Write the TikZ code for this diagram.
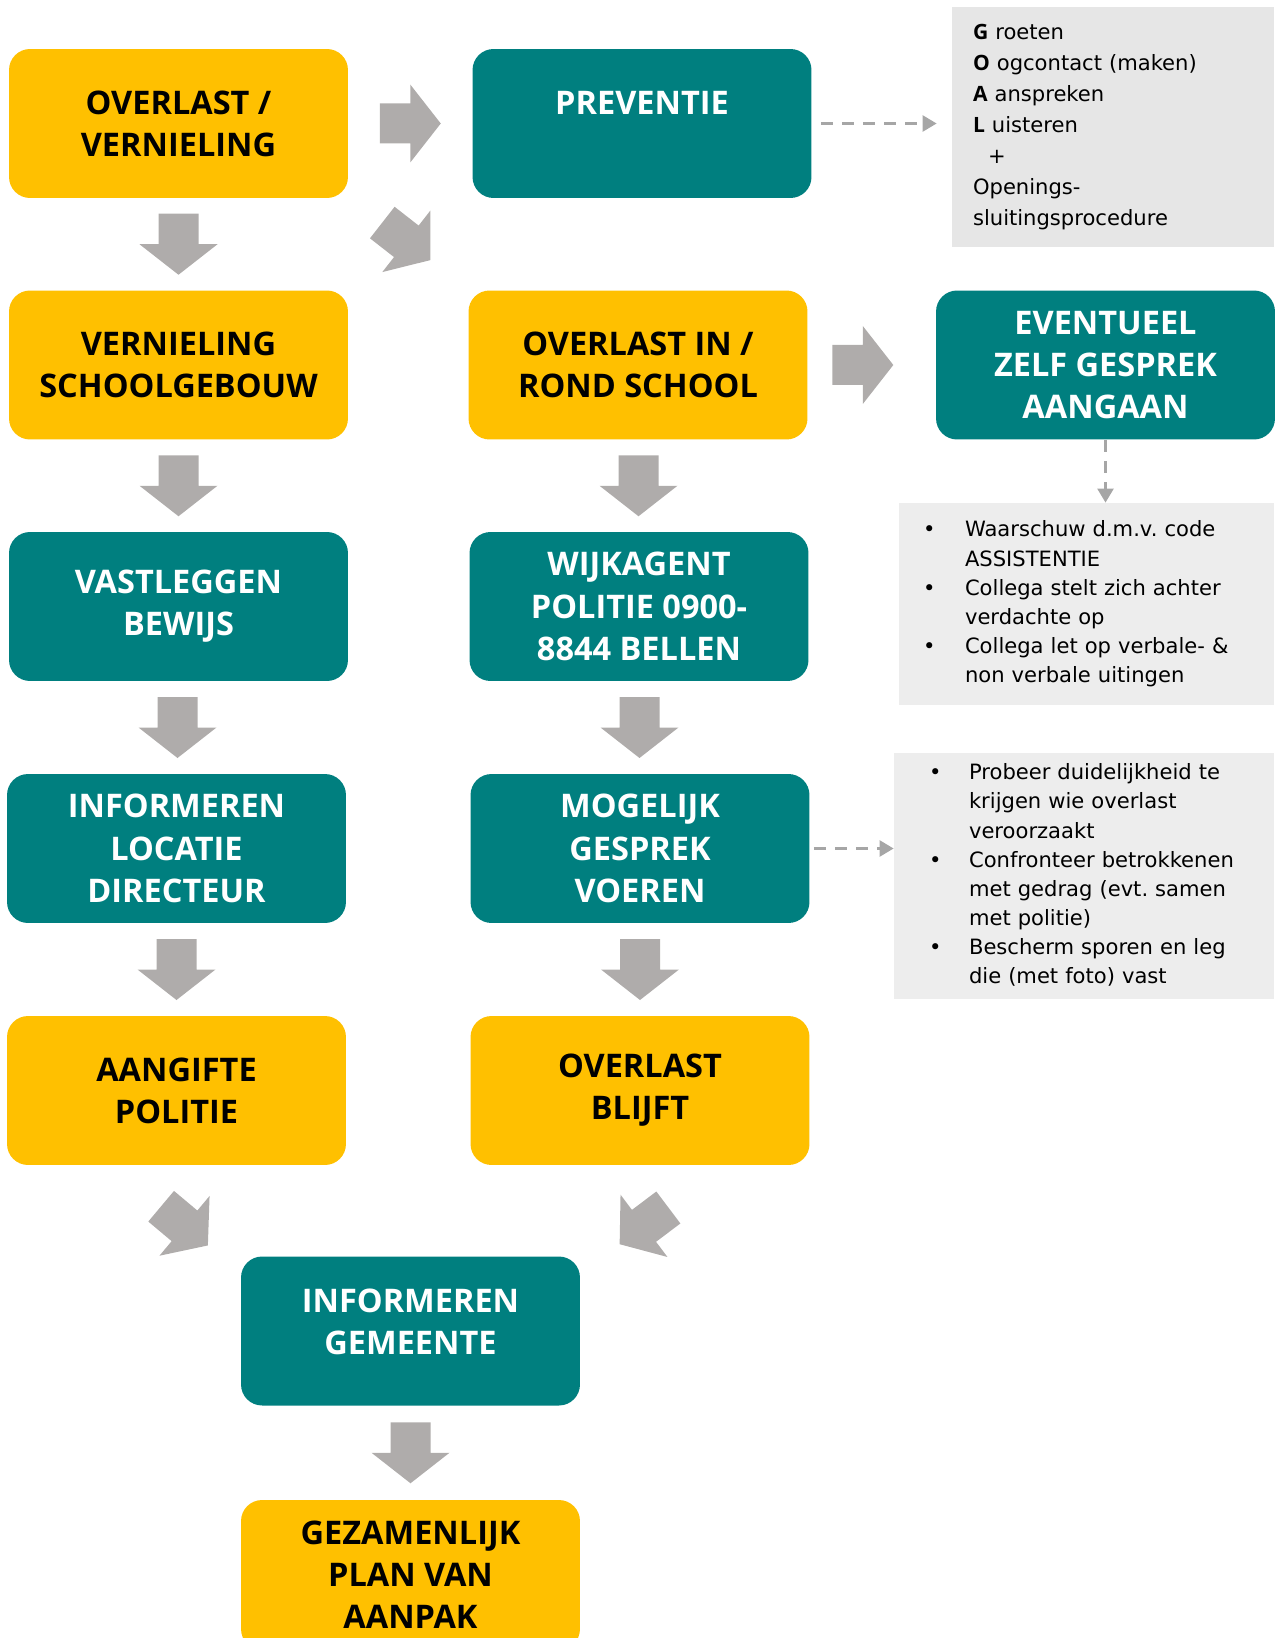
\documentclass[tikz,border=0pt]{standalone}
\usepackage{fontspec}
\setmainfont{DejaVu Sans}
\newfontfamily\kopfont{Open Sans}
\usetikzlibrary{calc,arrows.meta}
\definecolor{kleurgeel}{HTML}{FFC000}
\definecolor{kleurteal}{HTML}{007F7F}
\definecolor{kleurgrijs}{HTML}{AFACAB}
\definecolor{vlakgrijs}{HTML}{E6E6E6}
\definecolor{vlaklicht}{HTML}{EDEDED}
\definecolor{stippelgrijs}{HTML}{A6A6A6}
\frenchspacing
\tikzset{
  geelvak/.style={rectangle, rounded corners=0.42cm, fill=kleurgeel, text=black, minimum width=6.78cm, minimum height=2.98cm, align=center, inner sep=0pt, font=\kopfont\bfseries\fontsize{18.5}{24}\selectfont},
  tealvak/.style={geelvak, fill=kleurteal, text=white},
  infovak/.style={rectangle, fill=vlaklicht, align=left, inner ysep=0pt, font=\fontsize{12}{16.6}\selectfont},
  stippel/.style={draw=stippelgrijs, line width=1.7pt, dash pattern=on 7pt off 5pt, -{Triangle[length=8pt,width=9pt]}},
  pics/blokpijl/.style={code={\fill[kleurgrijs] (-30.5,-20) -- (0,-20) -- (0,-39) -- (30.5,0) -- (0,39) -- (0,20) -- (-30.5,20) -- cycle;}}
}
\begin{document}
\begin{tikzpicture}[x=0.02cm, y=-0.02cm]
\useasboundingbox (0,0) rectangle (1274,1638);
% linker kolom
\node[geelvak] (ovl) at (178.5,123.5) {OVERLAST /\\VERNIELING};
\node[geelvak] (vern) at (178.5,365) {VERNIELING\\SCHOOLGEBOUW};
\node[tealvak] (vast) at (178.5,606.5) {VASTLEGGEN\\BEWIJS};
\node[tealvak] (info) at (176.5,848.5) {INFORMEREN\\LOCATIE\\DIRECTEUR};
\node[geelvak] (aang) at (176.5,1090.5) {AANGIFTE\\POLITIE};
% middelste kolom
\node[tealvak] (prev) at (642,123.5) {PREVENTIE\\\mbox{}};
\node[geelvak] (ovlin) at (638,365) {OVERLAST IN /\\ROND SCHOOL};
\node[tealvak] (wijk) at (639,606.5) {WIJKAGENT\\POLITIE 0900-\\8844 BELLEN};
\node[tealvak] (mog) at (640,848.5) {MOGELIJK\\GESPREK\\VOEREN};
\node[geelvak] (blijft) at (640,1090.5) {OVERLAST\\BLIJFT};
\node[tealvak] (gem) at (410.5,1331) {INFORMEREN\\GEMEENTE\\[-13.4pt]\mbox{}};
\node[geelvak, minimum height=3cm] (plan) at (410.5,1575) {GEZAMENLIJK\\PLAN VAN\\AANPAK};
% rechter kolom
\node[infovak, fill=vlakgrijs, text width=5.6cm, inner xsep=0.42cm, minimum height=4.8cm, font=\fontsize{12}{17.6}\selectfont] (goal) at (1113,127)
  {{\kopfont\bfseries G} roeten\\{\kopfont\bfseries O} ogcontact (maken)\\{\kopfont\bfseries A} anspreken\\{\kopfont\bfseries L} uisteren\\\hspace*{0.3cm}+\\Openings-\\sluitingsprocedure};
\node[tealvak] (event) at (1105.5,365) {EVENTUEEL\\ZELF GESPREK\\AANGAAN};
\node[infovak, text width=6.54cm, inner xsep=0.48cm, minimum height=4.04cm] (bul1) at (1086.5,604)
  {\begin{tabular}{@{}p{0.84cm}@{}l@{}}
  \textbullet & Waarschuw d.m.v. code\\
   & ASSISTENTIE\\
  \textbullet & Collega stelt zich achter\\
   & verdachte op\\
  \textbullet & Collega let op verbale- \&\\
   & non verbale uitingen
  \end{tabular}};
\node[infovak, text width=6.2cm, inner xsep=0.7cm, minimum height=4.94cm] (bul2) at (1084,876)
  {\begin{tabular}{@{}p{0.8cm}@{}l@{}}
  \textbullet & Probeer duidelijkheid te\\
   & krijgen wie overlast\\
   & veroorzaakt\\
  \textbullet & Confronteer betrokkenen\\
   & met gedrag (evt. samen\\
   & met politie)\\
  \textbullet & Bescherm sporen en leg\\
   & die (met foto) vast
  \end{tabular}};
% blokpijlen
\pic at ($(ovl.east)!0.5!(prev.west)$) {blokpijl};
\pic[rotate=-38] at ($(ovl.south east)+(58,43)$) {blokpijl};
\pic at ($(ovlin.east)!0.43!(event.west)$) {blokpijl};
\pic[rotate=-90] at ($(ovl.south)!0.5!(vern.north)$) {blokpijl};
\pic[rotate=-90] at ($(vern.south)!0.5!(vast.north)$) {blokpijl};
\pic[rotate=-90] at ($(vast.south)!0.5!(info.north)$) {blokpijl};
\pic[rotate=-90] at ($(info.south)!0.5!(aang.north)$) {blokpijl};
\pic[rotate=-90] at ($(ovlin.south)!0.5!(wijk.north)$) {blokpijl};
\pic[rotate=-90] at ($(wijk.south)!0.5!(mog.north)$) {blokpijl};
\pic[rotate=-90] at ($(mog.south)!0.5!(blijft.north)$) {blokpijl};
\pic[rotate=-40] at ($(aang.south)+(8,60.5)$) {blokpijl};
\pic[rotate=-143] at ($(blijft.south)+(4,60.5)$) {blokpijl};
\pic[rotate=-90] at ($(gem.south)!0.5!(plan.north)$) {blokpijl};
% stippellijnen
\draw[stippel, shorten <=0.18cm, shorten >=0.3cm] (prev.east) -- (prev.east -| goal.west);
\draw[stippel] (event.south) -- (event.south |- bul1.north);
\draw[stippel, shorten <=0.08cm] (mog.east) -- (mog.east -| bul2.west);
\end{tikzpicture}
\end{document}
